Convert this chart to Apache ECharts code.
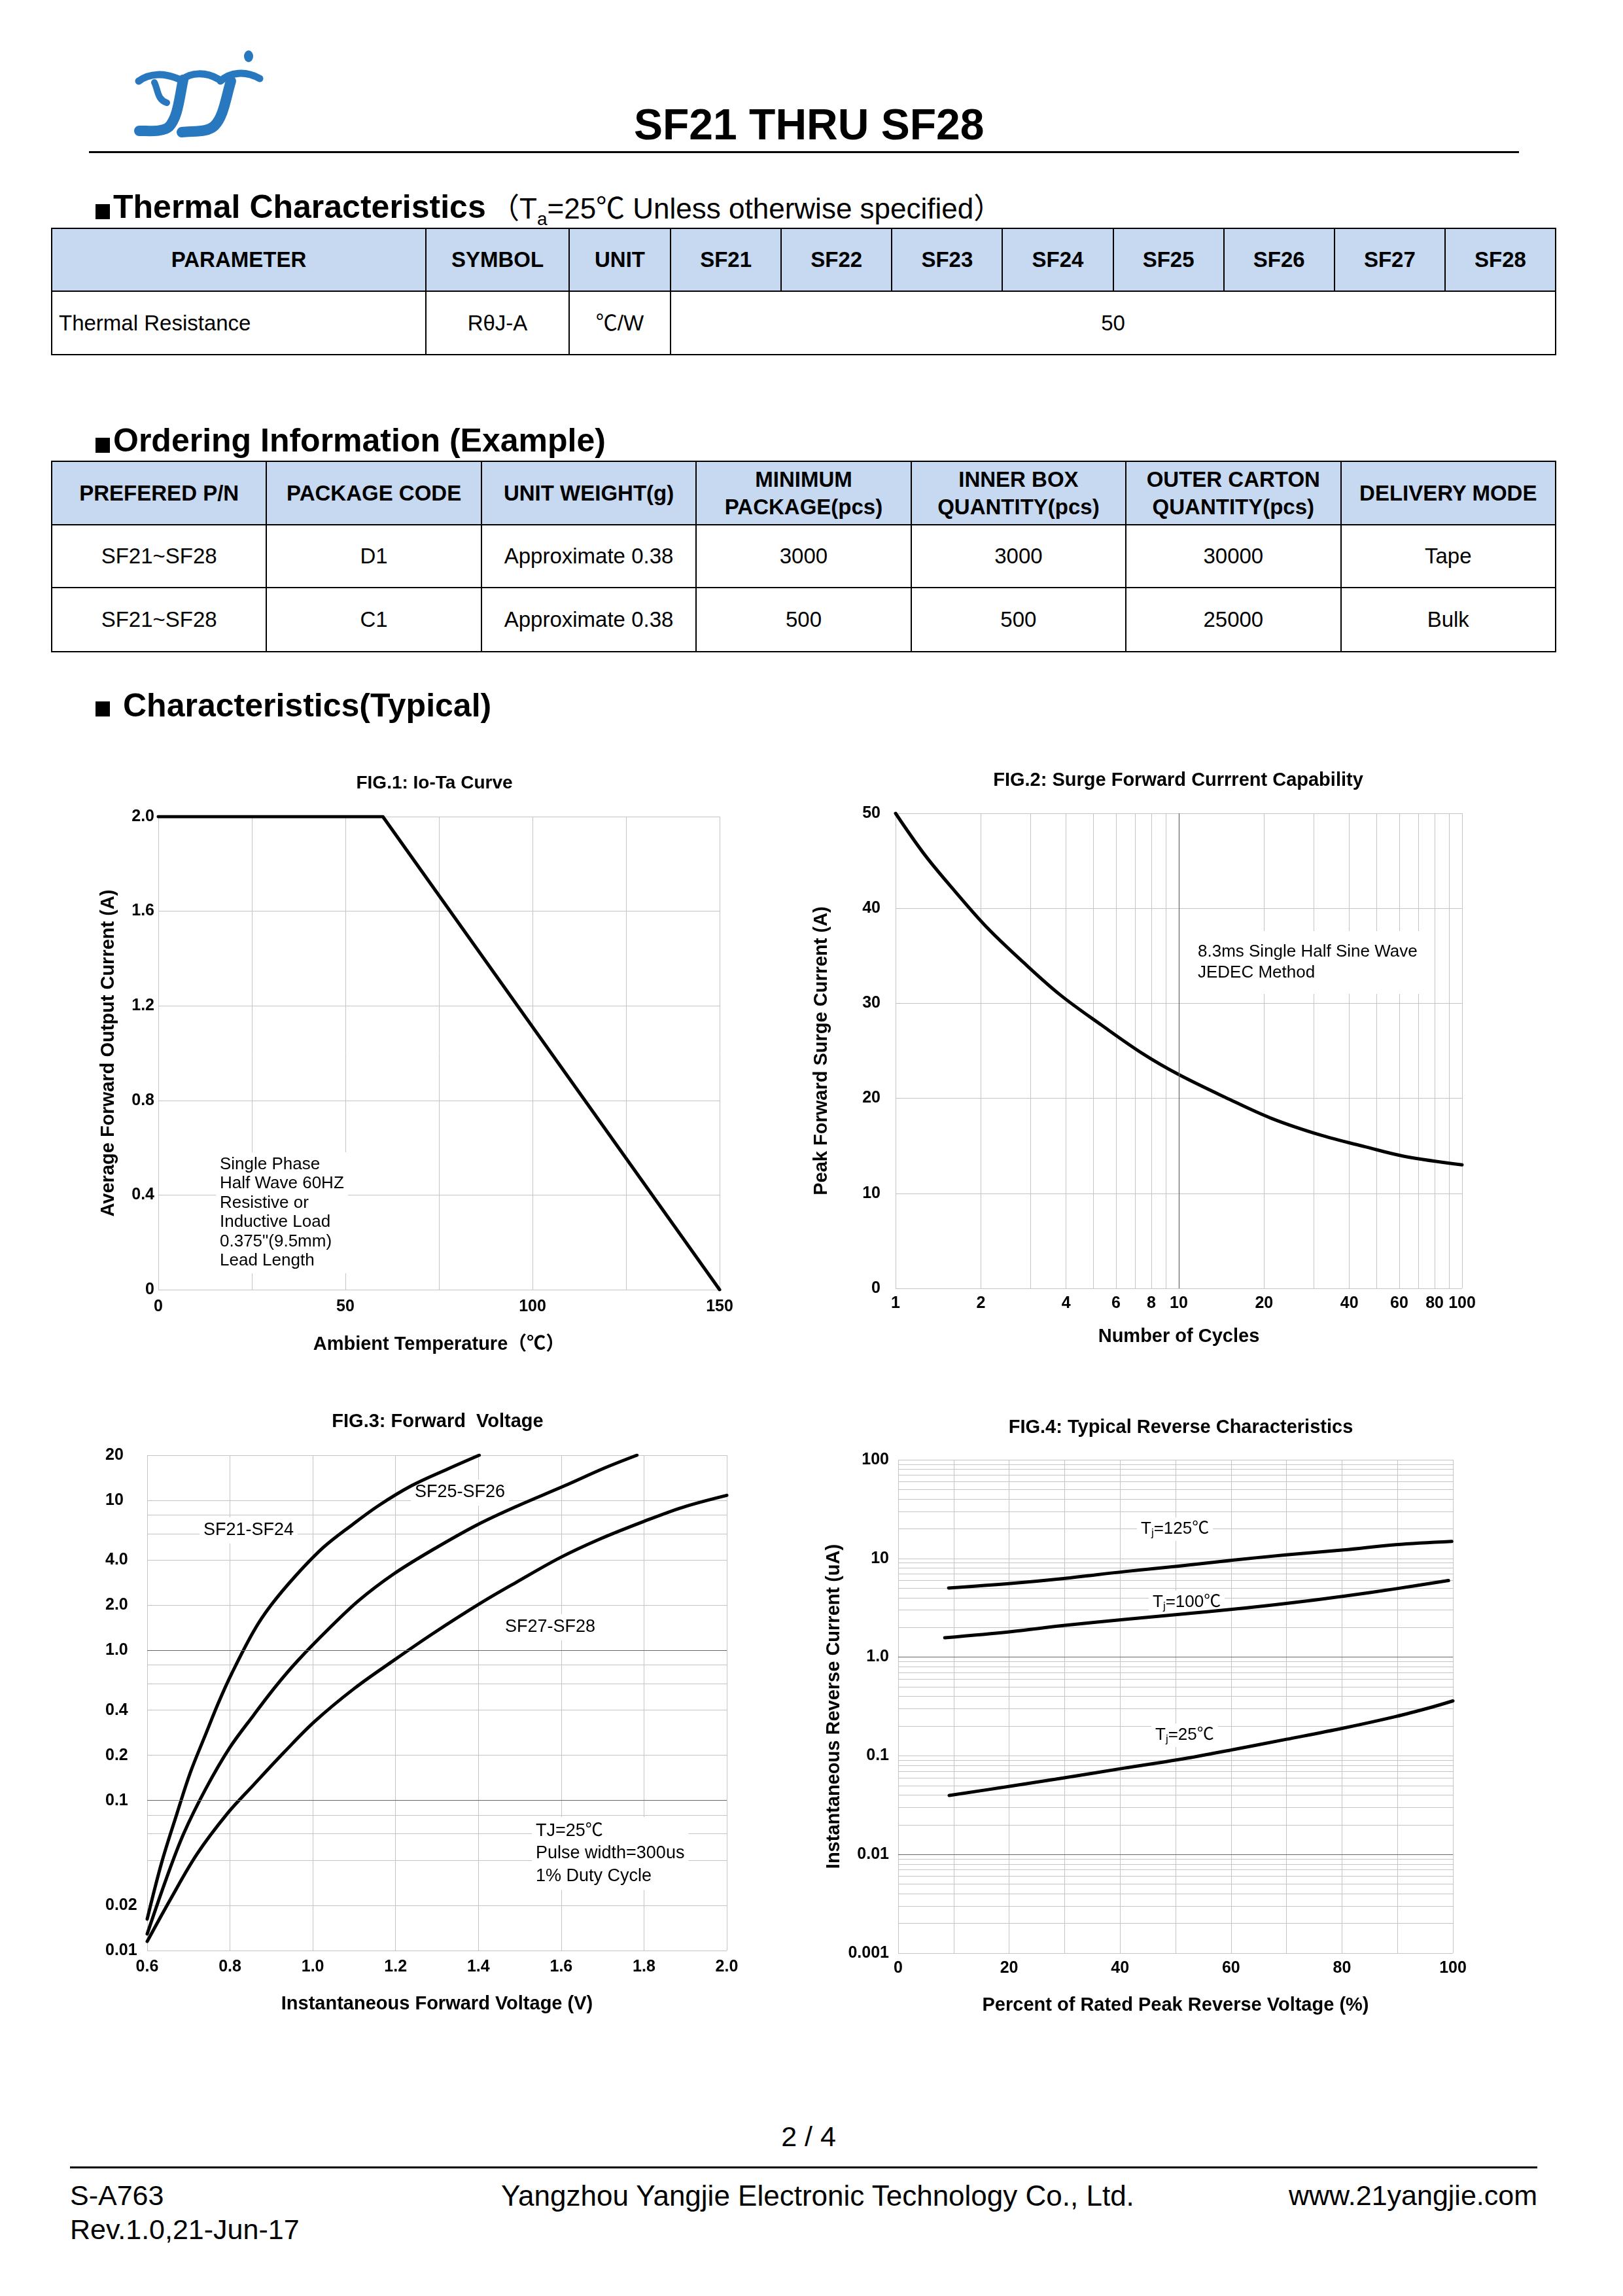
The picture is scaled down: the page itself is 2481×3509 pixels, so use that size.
<!DOCTYPE html>
<html><head><meta charset="utf-8">
<script src="https://cdn.jsdelivr.net/npm/echarts@6/dist/echarts.min.js"></script>
<style>
html,body{margin:0;padding:0;background:#fff;}
body{width:2481px;height:3509px;position:relative;font-family:"Liberation Sans",Arial,"Noto Sans CJK SC",sans-serif;color:#000;overflow:hidden;}
.t{position:absolute;white-space:nowrap;line-height:1;}
.bul{position:absolute;background:#000;width:22px;height:23px;}
table{position:absolute;border-collapse:collapse;table-layout:fixed;}
td{border:2px solid #000;text-align:center;vertical-align:middle;padding:0;font-size:33px;line-height:42px;}
tr.hd td{background:#c6d9f1;font-weight:bold;}
.hl{position:absolute;background:#000;}
#chart{position:absolute;left:0;top:1100px;width:2481px;height:2100px;}
</style></head>
<body>
<svg style="position:absolute;left:0;top:0" width="450" height="230">
<g fill="none" stroke="#2878c0" stroke-linecap="round">
<path d="M212 124 C228 112 252 110 278 123" stroke-width="11"/>
<path d="M236 126 C242 138 240 152 255 157" stroke-width="10"/>
<path d="M278 122 C292 110 315 110 334 121" stroke-width="11"/>
<path d="M280 122 C274 150 272 180 258 194 C248 202 230 200 213 200" stroke-width="16"/>
<path d="M353 124 C345 150 342 178 328 192 C318 202 300 200 278 202" stroke-width="16"/>
<path d="M337 124 C352 110 375 108 397 120" stroke-width="11"/>
</g>
<ellipse cx="380" cy="86" rx="7" ry="9" fill="#2878c0"/>
</svg>
<div class="t" style="left:969px;top:157px;font-size:66px;font-weight:bold;">SF21 THRU SF28</div>
<div class="hl" style="left:136px;top:231px;width:2186px;height:3px;"></div>

<div class="bul" style="left:146px;top:312px;"></div>
<div class="t" style="left:173px;top:291px;font-size:50px;font-weight:bold;">Thermal Characteristics</div>
<div class="t" style="left:750px;top:297px;font-size:44px;">（T<sub style="font-size:28px;">a</sub>=25℃ Unless otherwise specified）</div>

<table style="left:78px;top:348px;width:2301px;">
<colgroup><col style="width:572px"><col style="width:219px"><col style="width:155px"><col><col><col><col><col><col><col><col></colgroup>
<tr class="hd" style="height:96px"><td>PARAMETER</td><td>SYMBOL</td><td>UNIT</td><td>SF21</td><td>SF22</td><td>SF23</td><td>SF24</td><td>SF25</td><td>SF26</td><td>SF27</td><td>SF28</td></tr>
<tr style="height:97px"><td style="text-align:left;padding-left:10px;">Thermal Resistance</td><td>RθJ-A</td><td>℃/W</td><td colspan="8">50</td></tr>
</table>

<div class="bul" style="left:146px;top:669px;"></div>
<div class="t" style="left:173px;top:648px;font-size:50px;font-weight:bold;">Ordering Information (Example)</div>

<table style="left:78px;top:704px;width:2301px;">
<tr class="hd" style="height:97px"><td>PREFERED P/N</td><td>PACKAGE CODE</td><td>UNIT WEIGHT(g)</td><td>MINIMUM<br>PACKAGE(pcs)</td><td>INNER BOX<br>QUANTITY(pcs)</td><td>OUTER CARTON<br>QUANTITY(pcs)</td><td>DELIVERY MODE</td></tr>
<tr style="height:96px"><td>SF21~SF28</td><td>D1</td><td>Approximate 0.38</td><td>3000</td><td>3000</td><td>30000</td><td>Tape</td></tr>
<tr style="height:98px"><td>SF21~SF28</td><td>C1</td><td>Approximate 0.38</td><td>500</td><td>500</td><td>25000</td><td>Bulk</td></tr>
</table>

<div class="bul" style="left:146px;top:1072px;"></div>
<div class="t" style="left:188px;top:1053px;font-size:50px;font-weight:bold;">Characteristics(Typical)</div>

<div id="chart"></div>

<div class="t" style="left:1236px;top:3244px;font-size:43px;transform:translateX(-50%);">2 / 4</div>
<div class="hl" style="left:107px;top:3311px;width:2243px;height:3px;"></div>
<div class="t" style="left:107px;top:3334px;font-size:43px;">S-A763</div>
<div class="t" style="left:107px;top:3386px;font-size:43px;">Rev.1.0,21-Jun-17</div>
<div class="t" style="left:766px;top:3334px;font-size:44px;">Yangzhou Yangjie Electronic Technology Co., Ltd.</div>
<div class="t" style="right:131px;top:3334px;font-size:43px;">www.21yangjie.com</div>

<script>
// ---------------- DATA ----------------
// FIG.1 Io-Ta curve
const fig1Temp = [0, 60, 150];
const fig1Current = [2.0, 2.0, 0];
const fig1XLabels = [0, 50, 100, 150];

// FIG.2 Surge forward current
const fig2Cycles = [1, 1.27, 1.62, 2.1, 2.83, 3.81, 5.34, 7.46, 10, 14.6, 21.2, 31.9, 45.5, 62.5, 100];
const fig2Amps = [50, 45.6, 41.8, 38.0, 34.3, 30.9, 27.7, 24.7, 22.5, 20.1, 17.9, 16.1, 14.9, 13.9, 13.0];
const fig2XLabels = [1, 2, 4, 6, 8, 10, 20, 40, 60, 80, 100];
const fig2XGrid = [1, 2, 3, 4, 5, 6, 7, 8, 9, 10, 20, 30, 40, 50, 60, 70, 80, 90, 100];

// FIG.3 Forward voltage
const fig3VoltsA = [0.6, 0.635, 0.672, 0.704, 0.741, 0.772, 0.804, 0.857, 0.899, 0.958, 1.026, 1.095, 1.159, 1.238, 1.323, 1.402];
const fig3AmpsA = [0.0162, 0.0386, 0.082, 0.153, 0.275, 0.447, 0.70, 1.34, 2.0, 3.13, 4.87, 6.87, 9.23, 12.5, 16.05, 20];
const fig3VoltsB = [0.6, 0.646, 0.688, 0.741, 0.799, 0.857, 0.91, 0.963, 1.037, 1.111, 1.196, 1.291, 1.397, 1.492, 1.608, 1.704, 1.783];
const fig3AmpsB = [0.0129, 0.030, 0.060, 0.119, 0.224, 0.370, 0.574, 0.85, 1.38, 2.15, 3.24, 4.71, 6.87, 9.12, 12.5, 16.4, 20];
const fig3VoltsC = [0.6, 0.656, 0.72, 0.794, 0.857, 0.931, 1.005, 1.1, 1.196, 1.291, 1.407, 1.492, 1.598, 1.693, 1.799, 1.894, 2.0];
const fig3AmpsC = [0.0115, 0.0219, 0.0438, 0.082, 0.127, 0.210, 0.337, 0.557, 0.86, 1.30, 2.08, 2.85, 4.16, 5.52, 7.23, 9.0, 10.8];
const fig3YLabels = [0.01, 0.02, 0.1, 0.2, 0.4, 1, 2, 4, 10, 20];
const fig3YGrid = [0.01, 0.02, 0.04, 0.06, 0.08, 0.1, 0.2, 0.4, 0.6, 0.8, 1, 2, 4, 6, 8, 10, 20];

// FIG.4 Reverse characteristics
const fig4Pct125 = [9.1, 20.3, 29.8, 40.8, 50.3, 60.5, 70, 80.3, 89.7, 99.8];
const fig4Cur125 = [5.02, 5.58, 6.26, 7.36, 8.34, 9.62, 10.9, 12.2, 13.8, 14.9];
const fig4Pct100 = [8.4, 20.3, 29.8, 40.8, 50.3, 60.5, 70, 80.3, 89.7, 99.2];
const fig4Cur100 = [1.57, 1.81, 2.09, 2.41, 2.70, 3.06, 3.50, 4.15, 4.93, 5.97];
const fig4Pct25 = [9.2, 20.3, 29.8, 40.8, 50.3, 60.5, 70, 80.3, 89.7, 96, 100];
const fig4Cur25 = [0.0396, 0.0493, 0.0597, 0.0751, 0.091, 0.116, 0.147, 0.191, 0.25, 0.309, 0.36];
const fig4YLabels = [0.001, 0.01, 0.1, 1, 10, 100];
const fig4Decades = [0.001, 0.01, 0.1, 1, 10];
const fig4Mantissas = [1, 2, 3, 4, 5, 6, 7, 8, 9];

// ---------------- CHART ----------------
const FF = '"Liberation Sans", Arial, "Noto Sans CJK SC", sans-serif';
const fig4YGrid = [];
fig4Decades.forEach(d => fig4Mantissas.forEach(m => fig4YGrid.push(Number((d * m).toPrecision(3)))));
fig4YGrid.push(100);

const pairs = (xs, ys) => xs.map((x, i) => [x, ys[i]]);
const lab = (extra) => Object.assign({color: '#000', fontWeight: 'bold', fontSize: 25, fontFamily: FF}, extra);
const nameStyle = {color: '#000', fontWeight: 'bold', fontSize: 29, fontFamily: FF};
const grid = {show: true, lineStyle: {color: '#c4c4c4', width: 1, type: 'solid'}};
const noLine = {show: false};
const lineStyle = {color: '#000', width: 5, cap: 'round', join: 'round'};
const darkMark = (key, vals) => ({
  silent: true, symbol: ['none', 'none'], label: {show: false},
  lineStyle: {color: '#666', width: 1.2, type: 'solid'},
  data: vals.map(v => ({[key]: v}))
});
const fmt3 = v => v >= 10 ? v.toFixed(0) : (v >= 0.1 ? v.toFixed(1) : v.toFixed(2));
const fmt4 = v => v >= 10 ? v.toFixed(0) : (v >= 0.1 ? v.toFixed(1) : (v >= 0.01 ? v.toFixed(2) : v.toFixed(3)));

const txt = (x, y, text, va, extra) => ({
  type: 'text', x: x, y: y, z: 1,
  style: Object.assign({text: text, fill: '#000', fontSize: 26, fontFamily: FF, lineHeight: 29.5,
    backgroundColor: '#fff', padding: [4, 6], align: 'left', verticalAlign: va}, extra || {})
});
const tj = (x, y, sub, rest) => ({
  type: 'text', x: x, y: y, z: 1,
  style: {text: '{a|T}{b|' + sub + '}{a|' + rest + '}', backgroundColor: '#fff', padding: [3, 6], align: 'left', verticalAlign: 'middle',
    rich: {a: {fontSize: 26, fontFamily: FF, fill: '#000', lineHeight: 30},
           b: {fontSize: 17, fontFamily: FF, fill: '#000', verticalAlign: 'bottom', lineHeight: 30}}}
});
const curve = (xi, yi, xs, ys, extra) => Object.assign({
  type: 'line', xAxisIndex: xi, yAxisIndex: yi, data: pairs(xs, ys), symbol: 'none',
  smooth: 0.35, lineStyle: lineStyle, z: 3, silent: true
}, extra || {});

const chart = echarts.init(document.getElementById('chart'), null, {renderer: 'canvas'});
const titleBase = {textAlign: 'center', padding: 0};
const tStyle = s => ({color: '#000', fontWeight: 'bold', fontSize: s, fontFamily: FF});
chart.setOption({
  animation: false,
  title: [
    Object.assign({text: 'FIG.1: Io-Ta Curve', left: 664, top: 83, textStyle: tStyle(28)}, titleBase),
    Object.assign({text: 'FIG.2: Surge Forward Currrent Capability', left: 1801, top: 78, textStyle: tStyle(29)}, titleBase),
    Object.assign({text: 'FIG.3: Forward  Voltage', left: 669, top: 1058, textStyle: tStyle(29)}, titleBase),
    Object.assign({text: 'FIG.4: Typical Reverse Characteristics', left: 1805, top: 1067, textStyle: tStyle(29)}, titleBase)
  ],
  grid: [
    {left: 242, top: 148, width: 858, height: 723},
    {left: 1369, top: 143, width: 866, height: 726},
    {left: 225, top: 1124, width: 886, height: 757},
    {left: 1373, top: 1131, width: 848, height: 754}
  ],
  xAxis: [
    {gridIndex: 0, type: 'value', min: 0, max: 150, interval: 25, axisLine: noLine, axisTick: noLine, splitLine: grid,
     axisLabel: lab({margin: 14, formatter: v => fig1XLabels.indexOf(v) >= 0 ? String(v) : ''}),
     name: 'Ambient Temperature（℃）', nameLocation: 'middle', nameGap: 69, nameTextStyle: nameStyle},
    {gridIndex: 1, type: 'log', logBase: 10, min: 1, max: 100, axisLine: noLine,
     axisTick: {show: false, customValues: fig2XGrid}, splitLine: grid,
     axisLabel: lab({margin: 11, customValues: fig2XLabels, formatter: v => String(Math.round(v))}),
     name: 'Number of Cycles', nameLocation: 'middle', nameGap: 59, nameTextStyle: nameStyle},
    {gridIndex: 2, type: 'value', min: 0.6, max: 2.0, interval: 0.2, axisLine: noLine, axisTick: noLine, splitLine: grid,
     axisLabel: lab({margin: 13, formatter: v => v.toFixed(1)}),
     name: 'Instantaneous Forward Voltage (V)', nameLocation: 'middle', nameGap: 67, nameTextStyle: nameStyle},
    {gridIndex: 3, type: 'value', min: 0, max: 100, interval: 10, axisLine: noLine, axisTick: noLine, splitLine: grid,
     axisLabel: lab({margin: 11, formatter: v => (Math.round(v) % 20 === 0 ? String(Math.round(v)) : '')}),
     name: 'Percent of Rated Peak Reverse Voltage (%)', nameLocation: 'middle', nameGap: 65, nameTextStyle: nameStyle}
  ],
  yAxis: [
    {gridIndex: 0, type: 'value', min: 0, max: 2, interval: 0.4, axisLine: noLine, axisTick: noLine, splitLine: grid,
     axisLabel: lab({margin: 6, formatter: v => v === 0 ? '0' : v.toFixed(1)}),
     name: 'Average Forward Output Current (A)', nameLocation: 'middle', nameGap: 61, nameTextStyle: nameStyle},
    {gridIndex: 1, type: 'value', min: 0, max: 50, interval: 10, axisLine: noLine, axisTick: noLine, splitLine: grid,
     axisLabel: lab({margin: 23}),
     name: 'Peak Forward Surge Current (A)', nameLocation: 'middle', nameGap: 99, nameTextStyle: nameStyle},
    {gridIndex: 2, type: 'log', logBase: 10, min: 0.01, max: 20, axisLine: noLine,
     axisTick: {show: false, customValues: fig3YGrid}, splitLine: grid,
     axisLabel: lab({margin: 64, align: 'left', customValues: fig3YLabels, formatter: fmt3})},
    {gridIndex: 3, type: 'log', logBase: 10, min: 0.001, max: 100, axisLine: noLine,
     axisTick: {show: false, customValues: fig4YGrid}, splitLine: grid,
     axisLabel: lab({margin: 14, customValues: fig4YLabels, formatter: fmt4}),
     name: 'Instantaneous Reverse Current (uA)', nameLocation: 'middle', nameGap: 84, nameTextStyle: nameStyle}
  ],
  series: [
    curve(0, 0, fig1Temp, fig1Current, {smooth: false}),
    curve(1, 1, fig2Cycles, fig2Amps, {markLine: darkMark('xAxis', [10])}),
    curve(2, 2, fig3VoltsA, fig3AmpsA, {markLine: darkMark('yAxis', [0.1, 1])}),
    curve(2, 2, fig3VoltsB, fig3AmpsB),
    curve(2, 2, fig3VoltsC, fig3AmpsC),
    curve(3, 3, fig4Pct125, fig4Cur125, {markLine: darkMark('yAxis', [1, 0.01])}),
    curve(3, 3, fig4Pct100, fig4Cur100),
    curve(3, 3, fig4Pct25, fig4Cur25)
  ],
  graphic: [
    txt(330, 661, 'Single Phase\nHalf Wave 60HZ\nResistive or\nInductive Load\n0.375"(9.5mm)\nLead Length', 'top'),
    txt(1813, 323, '8.3ms Single Half Sine Wave\nJEDEC Method', 'top', {lineHeight: 32, padding: [16, 18]}),
    txt(305, 1239, 'SF21-SF24', 'middle', {fontSize: 27, lineHeight: 32}),
    txt(628, 1181, 'SF25-SF26', 'middle', {fontSize: 27, lineHeight: 32}),
    txt(766, 1387, 'SF27-SF28', 'middle', {fontSize: 27, lineHeight: 32}),
    txt(813, 1677, 'TJ=25℃\nPulse width=300us\n1% Duty Cycle', 'top', {fontSize: 27, lineHeight: 34.5}),
    tj(1738, 1237, 'j', '=125℃'),
    tj(1756, 1349, 'j', '=100℃'),
    tj(1760, 1552, 'j', '=25℃')
  ]
});
</script>
</body></html>
